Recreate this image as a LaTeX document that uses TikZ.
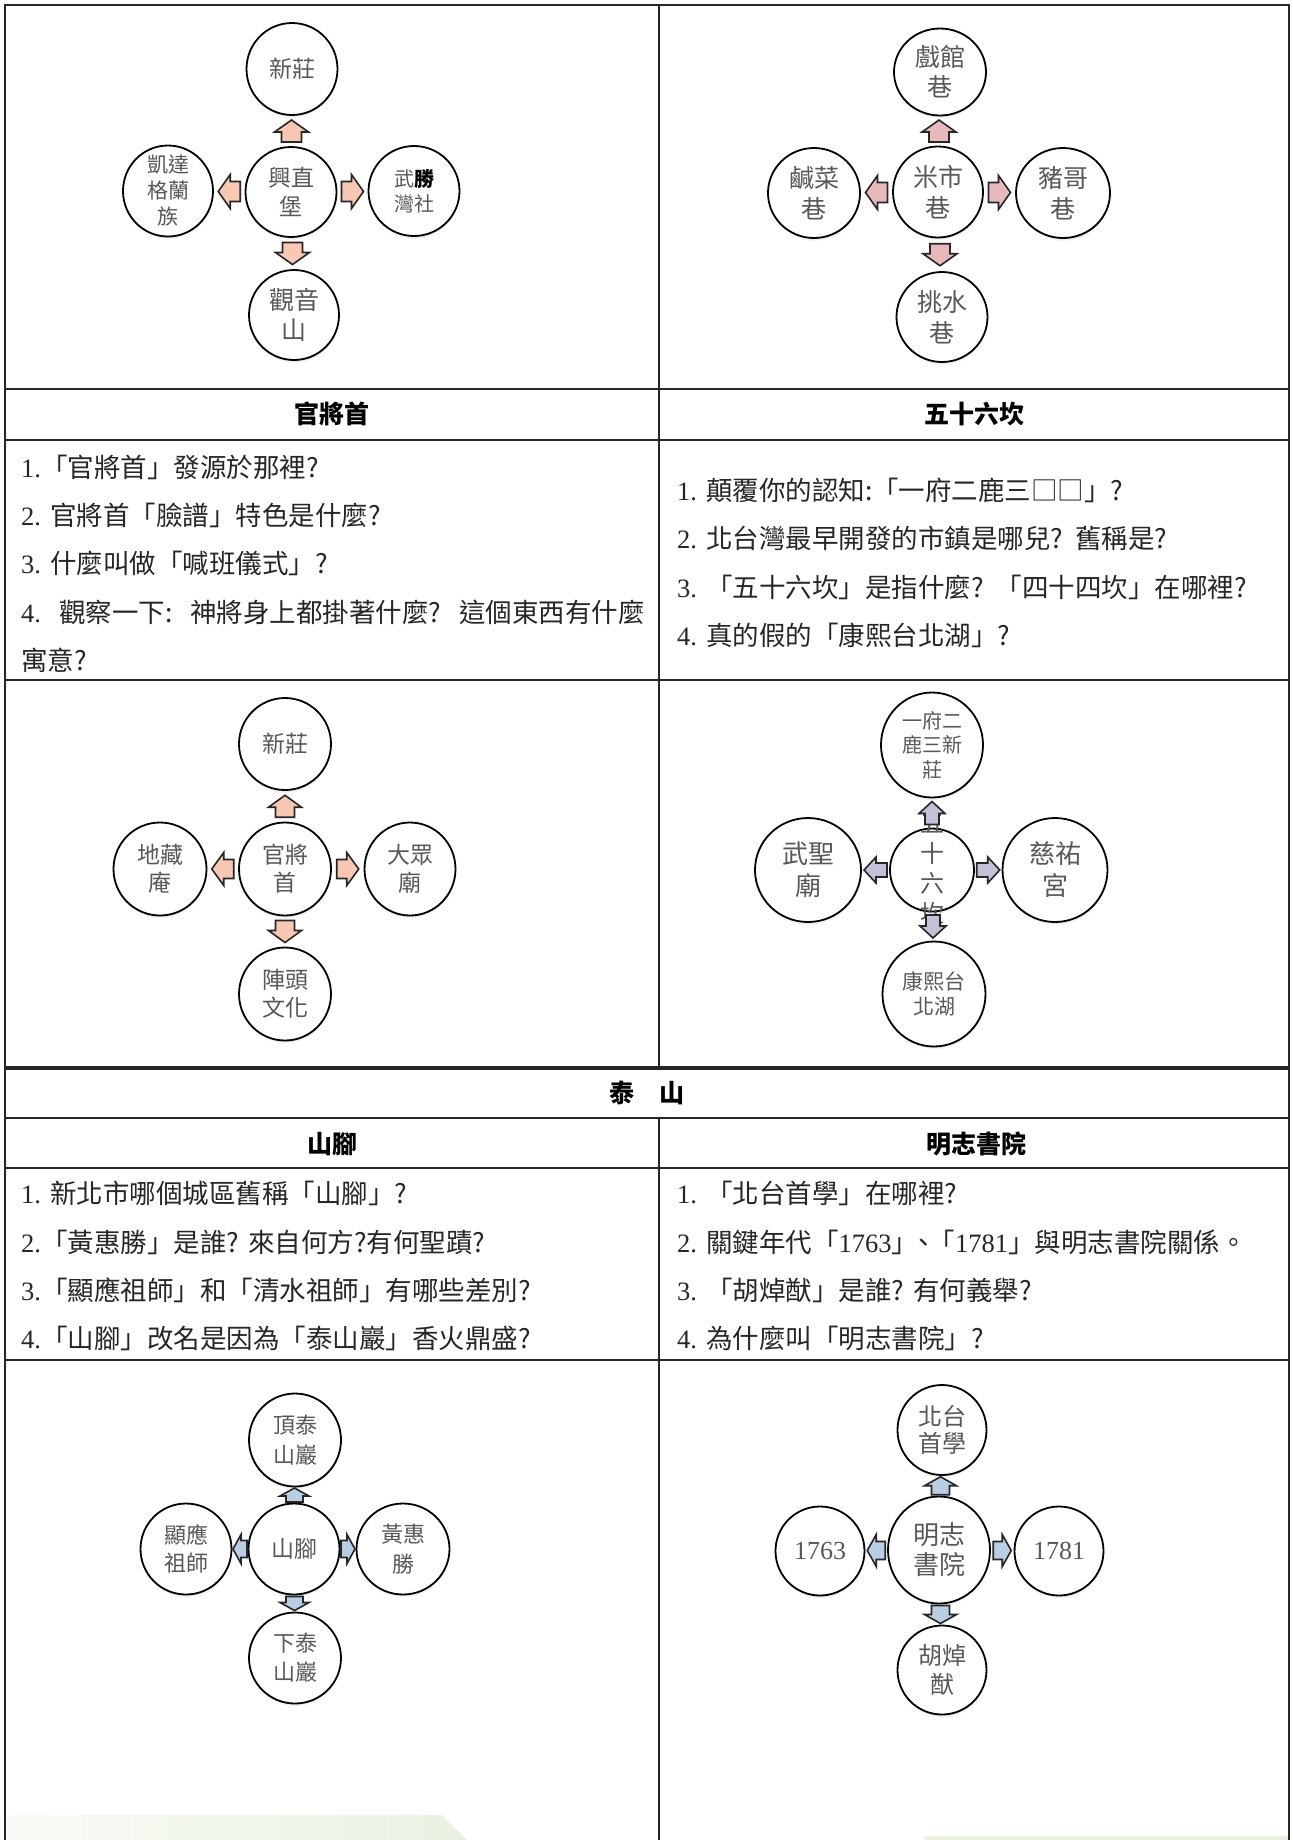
\documentclass[tikz,border=0pt]{standalone}
\usepackage{fontspec}
\setmainfont{Liberation Serif}
\newfontfamily\cjk{Noto Sans CJK TC}
\usetikzlibrary{shapes.geometric,shadows,calc}
\definecolor{txtgray}{HTML}{585858}
\definecolor{qcol}{HTML}{262626}
\definecolor{pinkA}{HTML}{F9C8B4}
\definecolor{pinkB}{HTML}{E8B9BB}
\definecolor{lavC}{HTML}{C4C0D8}
\definecolor{blueD}{HTML}{B9CDE5}
\definecolor{greenL}{HTML}{F9FBF6}
\definecolor{greenR}{HTML}{E9F2E1}
\newcommand\latn[1]{{\rmfamily #1}}
\newcommand\bub[7]{%
  \node[bubble,minimum width=#3,minimum height=#4] (#1) at (#2) {};
  \node[btext,font={\cjk\fontsize{#5}{#6}\selectfont}] (#1t) at (#1) {#7};}
\newcommand\crossarr[2]{%
  \pic[rotate=90] at ($(#1n.south)!0.5!(#1c.north)$) {barrow=#2};
  \pic[rotate=-90] at ($(#1s.north)!0.5!(#1c.south)$) {barrow=#2};
  \pic[rotate=180] at ($(#1w.east)!0.5!(#1c.west)$) {barrow=#2};
  \pic at ($(#1e.west)!0.5!(#1c.east)$) {barrow=#2};}
\begin{document}
\begin{tikzpicture}[x=1pt,y=-1pt,
  bubble/.style={ellipse,draw=black,line width=1.8pt,fill=white,inner sep=0pt,
    circular drop shadow={shadow xshift=0pt,shadow yshift=-3pt,shadow scale=1.0,opacity=0.45}},
  btext/.style={align=center,inner sep=0pt,text=txtgray},
  qtext/.style={anchor=west,inner sep=0pt,text=qcol,font={\cjk\fontsize{26.5}{30}\selectfont}},
  hdr/.style={inner sep=0pt,text=black,font={\cjk\bfseries\fontsize{25}{30}\selectfont}},
  tline/.style={line width=1.8pt,draw=black!85},
  pics/barrow/.style args={#1/#2/#3/#4/#5}{code={
    \path[draw=black!85,line width=1.6pt,fill=#5,line join=miter]
      (#1/2,0) -- (#1/2-#2,#3/2) -- (#1/2-#2,#4/2) -- (-#1/2,#4/2)
      -- (-#1/2,-#4/2) -- (#1/2-#2,-#4/2) -- (#1/2-#2,-#3/2) -- cycle;}}]
\useasboundingbox (0,0) rectangle (1293,1840);
\fill[white] (0,0) rectangle (1293,1840);
% green decorations at the bottom
\shade[left color=greenL,right color=greenR] (5,1815) -- (442,1815) -- (467,1840) -- (5,1840) -- cycle;
\fill[greenR] (923,1836) -- (1289,1836) -- (1289,1840) -- (926,1840) -- cycle;
% table lines
\draw[tline] (5,1840) -- (5,5) -- (1289,5) -- (1289,1840);
\draw[line width=1.5pt,draw=black!85] (659,5) -- (659,1068);
\draw[line width=1.5pt,draw=black!85] (659,1118) -- (659,1840);
\draw[tline] (5,389) -- (1289,389);
\draw[tline,line width=2.2pt] (5,440) -- (1289,440);
\draw[tline,line width=2.2pt] (5,680) -- (1289,680);
\draw[tline,line width=4pt] (5,1068) -- (1289,1068);
\draw[tline] (5,1118) -- (1289,1118);
\draw[tline,line width=2.2pt] (5,1168) -- (1289,1168);
\draw[tline,line width=2.2pt] (5,1360) -- (1289,1360);
% headers
\node[hdr] (h1) at (332,414) {官將首};
\node[hdr] (h2) at (974,414) {五十六坎};
\node[hdr] (h3) at (647,1093) {泰　山};
\node[hdr] (h4) at (332,1144) {山腳};
\node[hdr] (h5) at (976,1144) {明志書院};
% questions, top
\node[qtext] (q11) at (21,467) {\latn{1.}「官將首」發源於那裡?};
\node[qtext] (q12) at (21,515) {\latn{2.}\hspace{9pt}官將首「臉譜」特色是什麼?};
\node[qtext] (q13) at (21,563) {\latn{3.}\hspace{9pt}什麼叫做「喊班儀式」?};
\node[qtext] (q14) at (21,612) {\latn{4.}\hspace{18pt}觀察一下:\hspace{18pt}神將身上都掛著什麼?\hspace{18pt}這個東西有什麼};
\node[qtext] (q15) at (21,660) {寓意?};
\node[qtext] (q21) at (677,490) {\latn{1.}\hspace{9pt}顛覆你的認知:「一府二鹿三□□」?};
\node[qtext] (q22) at (677,538) {\latn{2.}\hspace{9pt}北台灣最早開發的市鎮是哪兒?\hspace{12pt}舊稱是?};
\node[qtext] (q23) at (677,587) {\latn{3.}\hspace{9pt}「五十六坎」是指什麼?\hspace{12pt}「四十四坎」在哪裡?};
\node[qtext] (q24) at (677,635) {\latn{4.}\hspace{9pt}真的假的「康熙台北湖」?};
% questions, bottom
\node[qtext] (q31) at (21,1193) {\latn{1.}\hspace{9pt}新北市哪個城區舊稱「山腳」?};
\node[qtext] (q32) at (21,1242) {\latn{2.}「黃惠勝」是誰?\hspace{9pt}來自何方?有何聖蹟?};
\node[qtext] (q33) at (21,1290) {\latn{3.}「顯應祖師」和「清水祖師」有哪些差別?};
\node[qtext] (q34) at (21,1338) {\latn{4.}「山腳」改名是因為「泰山巖」香火鼎盛?};
\node[qtext] (q41) at (677,1193) {\latn{1.}\hspace{9pt}「北台首學」在哪裡?};
\node[qtext] (q42) at (677,1242) {\latn{2.}\hspace{9pt}關鍵年代「\latn{1763}」\hspace{-8pt}、\hspace{-8pt}「\latn{1781}」與明志書院關係。};
\node[qtext] (q43) at (677,1290) {\latn{3.}\hspace{9pt}「胡焯猷」是誰?\hspace{9pt}有何義舉?};
\node[qtext] (q44) at (677,1338) {\latn{4.}\hspace{9pt}為什麼叫「明志書院」?};
% diagram: 興直堡
\bub{tlc}{291,192}{91}{90}{23}{29}{興直\\堡}
\bub{tln}{292,69}{91}{92}{23}{29}{新莊}
\bub{tlw}{168,191}{90}{91}{21}{26}{凱達\\格蘭\\族}
\bub{tle}{414,191}{91}{90}{20}{25}{武{\bfseries\color{black}勝}\\灣社}
\bub{tls}{294,315}{90}{90}{25}{30}{觀音\\山}
\crossarr{tl}{22/12/34/20/pinkA}
% diagram: 米市巷
\bub{trc}{938,192}{90}{91}{25}{31}{米市\\巷}
\bub{trn}{940,72}{92}{87}{25}{30}{戲館\\巷}
\bub{trw}{814,193}{92}{90}{25}{31}{鹹菜\\巷}
\bub{tre}{1063,193}{94}{90}{25}{31}{豬哥\\巷}
\bub{trs}{942,317}{91}{90}{25}{31}{挑水\\巷}
\crossarr{tr}{22/12/34/20/pinkB}
% diagram: 官將首
\bub{mlc}{285,869}{92}{93}{23}{28}{官將\\首}
\bub{mln}{285,744}{92}{92}{23}{28}{新莊}
\bub{mlw}{160,869}{93}{93}{23}{28}{地藏\\庵}
\bub{mle}{410,869}{91}{93}{23}{28}{大眾\\廟}
\bub{mls}{285,994}{92}{93}{23}{28}{陣頭\\文化}
\crossarr{ml}{22/12/33/19/pinkA}
% diagram: 五十六坎
\bub{mrc}{932,870}{84}{83}{24}{30}{五\\十\\六\\坎}
\bub{mrn}{932,745}{102}{105}{20}{24.5}{一府二\\鹿三新\\莊}
\bub{mrw}{808,870}{106}{104}{26}{32}{武聖\\廟}
\bub{mre}{1055,870}{105}{104}{26}{32}{慈祐\\宮}
\bub{mrs}{934,994}{103}{105}{21}{25}{康熙台\\北湖}
\crossarr{mr}{23/12/26/14/lavC}
% diagram: 山腳
\bub{blc}{294,1549}{91}{91}{23}{28}{山腳}
\bub{bln}{295,1440}{92}{93}{22}{30}{頂泰\\山巖}
\bub{blw}{186,1549}{91}{91}{22}{28}{顯應\\祖師}
\bub{ble}{403,1549}{93}{91}{22}{30}{黃惠\\勝}
\bub{bls}{295,1658}{92}{91}{22}{29}{下泰\\山巖}
\crossarr{bl}{14/8/29/17/blueD}
% diagram: 明志書院
\bub{brc}{939,1550}{102}{107}{26}{30}{明志\\書院}
\bub{brn}{942,1430}{89}{90}{24}{27}{北台\\首學}
\bub{brw}{820,1551}{89}{89}{26}{30}{\latn{1763}}
\bub{bre}{1059,1551}{89}{89}{26}{30}{\latn{1781}}
\bub{brs}{942,1670}{89}{89}{24}{29}{胡焯\\猷}
\crossarr{br}{18/9/32/18/blueD}
\end{tikzpicture}
\end{document}
